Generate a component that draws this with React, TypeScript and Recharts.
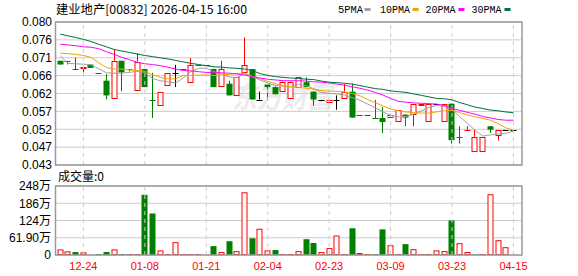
import React from 'react';
import { ComposedChart, Bar, Line, XAxis, YAxis, CartesianGrid, ReferenceLine } from 'recharts';

const RED = '#ff0000';
const GREEN = '#008000';
const BLACK = '#000000';
const GRID = '#cccccc';
const FONT = "'Liberation Sans', Arial, 'Noto Sans CJK SC', sans-serif";

const dates = ['12-19','12-22','12-23','12-24','12-29','12-30','12-31','01-02','01-05','01-06',
  '01-07','01-08','01-09','01-12','01-13','01-14','01-15','01-16','01-20','01-21',
  '01-22','01-23','01-26','01-27','01-29','01-30','02-03','02-04','02-05','02-06',
  '02-09','02-10','02-11','02-12','02-20','02-23','02-24','02-25','02-26','02-27',
  '03-02','03-03','03-06','03-09','03-10','03-11','03-12','03-13','03-16','03-17',
  '03-20','03-23','03-24','03-25','03-26','03-27','04-08','04-09','04-14','04-15'];

const opens = [0.0702,0.0700,0.0681,0.0682,0.0692,0.0670,0.0649,0.0600,0.0702,0.0678,
  0.0622,0.0680,0.0599,0.0583,0.0636,0.0670,0.0679,0.0643,0.0691,0.0692,
  0.0680,0.0632,0.0641,0.0610,0.0671,0.0680,0.0599,0.0639,0.0632,0.0618,
  0.0601,0.0632,0.0645,0.0620,0.0599,0.0591,0.0599,0.0601,0.0620,0.0558,
  0.0558,0.0549,0.0550,0.0550,0.0539,0.0559,0.0559,0.0583,0.0539,0.0588,
  0.0539,0.0588,0.0499,0.0518,0.0459,0.0459,0.0528,0.0503,0.0519,0.0519];

const highs = [0.0702,0.0702,0.0710,0.0686,0.0692,0.0670,0.0667,0.0731,0.0702,0.0680,
  0.0722,0.0680,0.0670,0.0620,0.0670,0.0691,0.0680,0.0709,0.0692,0.0692,
  0.0681,0.0702,0.0649,0.0660,0.0764,0.0680,0.0620,0.0641,0.0634,0.0647,
  0.0647,0.0660,0.0658,0.0620,0.0599,0.0599,0.0610,0.0641,0.0641,0.0559,
  0.0559,0.0598,0.0579,0.0559,0.0570,0.0559,0.0588,0.0588,0.0588,0.0588,
  0.0588,0.0588,0.0528,0.0528,0.0519,0.0500,0.0528,0.0519,0.0519,0.0519];

const lows = [0.0692,0.0692,0.0680,0.0671,0.0683,0.0669,0.0599,0.0600,0.0621,0.0674,
  0.0622,0.0632,0.0550,0.0583,0.0636,0.0632,0.0679,0.0643,0.0691,0.0692,
  0.0632,0.0632,0.0610,0.0610,0.0671,0.0599,0.0599,0.0599,0.0613,0.0618,
  0.0601,0.0632,0.0632,0.0582,0.0599,0.0591,0.0572,0.0601,0.0551,0.0558,
  0.0558,0.0548,0.0510,0.0550,0.0539,0.0528,0.0528,0.0583,0.0539,0.0588,
  0.0539,0.0482,0.0482,0.0518,0.0459,0.0459,0.0510,0.0490,0.0519,0.0519];

const closes = [0.0692,0.0702,0.0680,0.0686,0.0683,0.0669,0.0610,0.0702,0.0671,0.0680,
  0.0700,0.0632,0.0598,0.0620,0.0670,0.0670,0.0680,0.0691,0.0692,0.0692,
  0.0632,0.0680,0.0610,0.0660,0.0691,0.0599,0.0599,0.0632,0.0613,0.0645,
  0.0645,0.0660,0.0632,0.0599,0.0599,0.0599,0.0599,0.0620,0.0551,0.0559,
  0.0559,0.0548,0.0539,0.0559,0.0570,0.0551,0.0588,0.0588,0.0588,0.0588,
  0.0588,0.0491,0.0500,0.0519,0.0500,0.0500,0.0519,0.0519,0.0519,0.0519];

// volume in 万
const volumes = [20,13,10.6,9.5,0.3,3.5,10.6,20,3.5,1.5,
  1.5,216,149,16.5,1.5,46,1.5,1.5,1.5,0,
  31.8,10.6,49.5,14,225,60,94.4,16.5,17.7,1.5,
  1.5,14,56.6,43,10.6,24.8,70,1.5,96,7,
  1.5,3,92,35,1.5,39,21,1.5,1.5,16.5,
  14,124,42.4,10.6,1.5,1.5,218,53,28,0];

const ma5 = [0.0715,0.0695,0.0694,0.0693,0.0691,0.0681,0.0670,0.0669,0.0669,0.0671,
  0.0674,0.0671,0.0655,0.0649,0.0646,0.0643,0.0656,0.0673,0.0682,0.0682,
  0.0673,0.0666,0.0659,0.0657,0.0667,0.0659,0.0651,0.0643,0.0636,0.0635,
  0.0632,0.0639,0.0636,0.0627,0.0618,0.0615,0.0614,0.0611,0.0604,0.0597,
  0.0587,0.0577,0.0566,0.0557,0.0553,0.0554,0.0560,0.0569,0.0578,0.0583,
  0.0581,0.0573,0.0553,0.0536,0.0517,0.0502,0.0505,0.0507,0.0509,0.0515];

const ma10 = [0.0722,0.0721,0.0719,0.0716,0.0711,0.0697,0.0684,0.0680,0.0680,0.0678,
  0.0676,0.0674,0.0665,0.0658,0.0654,0.0654,0.0663,0.0663,0.0664,0.0664,
  0.0663,0.0664,0.0666,0.0668,0.0669,0.0660,0.0655,0.0647,0.0641,0.0635,
  0.0633,0.0631,0.0629,0.0627,0.0623,0.0621,0.0621,0.0619,0.0615,0.0609,
  0.0599,0.0591,0.0582,0.0574,0.0569,0.0566,0.0564,0.0563,0.0563,0.0566,
  0.0569,0.0570,0.0564,0.0558,0.0553,0.0549,0.0544,0.0535,0.0524,0.0517];

const ma20 = [0.0746,0.0744,0.0742,0.0739,0.0738,0.0734,0.0726,0.0719,0.0711,0.0705,
  0.0698,0.0694,0.0692,0.0689,0.0685,0.0680,0.0676,0.0675,0.0673,0.0671,
  0.0670,0.0670,0.0669,0.0667,0.0664,0.0660,0.0656,0.0653,0.0651,0.0649,
  0.0649,0.0649,0.0648,0.0646,0.0645,0.0643,0.0640,0.0637,0.0633,0.0629,
  0.0624,0.0618,0.0611,0.0602,0.0594,0.0592,0.0590,0.0589,0.0588,0.0587,
  0.0583,0.0575,0.0570,0.0565,0.0560,0.0554,0.0550,0.0546,0.0544,0.0544];

const ma30 = [0.0773,0.0768,0.0764,0.0759,0.0753,0.0746,0.0739,0.0732,0.0728,0.0724,
  0.0720,0.0716,0.0713,0.0710,0.0707,0.0703,0.0699,0.0695,0.0692,0.0689,
  0.0686,0.0685,0.0683,0.0682,0.0680,0.0676,0.0668,0.0663,0.0660,0.0658,
  0.0656,0.0655,0.0653,0.0652,0.0648,0.0645,0.0644,0.0642,0.0640,0.0636,
  0.0632,0.0628,0.0626,0.0622,0.0620,0.0618,0.0614,0.0610,0.0606,0.0602,
  0.0601,0.0598,0.0591,0.0585,0.0579,0.0575,0.0571,0.0569,0.0566,0.0564];

const tickDates = ['12-24','01-08','01-21','02-04','02-23','03-09','03-23','04-15'];
const priceTicks = [0.0425,0.04725,0.052,0.05675,0.0615,0.06625,0.071,0.07575,0.0805];
const priceTickLabels = ['0.043','0.047','0.052','0.057','0.062','0.066','0.071','0.076','0.080'];
const volTicks = [0,61.9,123.8,185.7,247.6];
const volTickLabels = ['0','61.90万','124万','186万','248万'];

const legendItems = [
  { name: '5PMA', key: 'ma5', color: '#a0a0a0' },
  { name: '10PMA', key: 'ma10', color: '#f5a300' },
  { name: '20PMA', key: 'ma20', color: '#ff00ff' },
  { name: '30PMA', key: 'ma30', color: '#006f3a' },
];

const rows = dates.map((d, i) => ({
  date: d,
  open: opens[i],
  high: highs[i],
  low: lows[i],
  close: closes[i],
  prevClose: i > 0 ? closes[i - 1] : null,
  range: [lows[i], highs[i]],
  vol: volumes[i],
  ma5: ma5[i],
  ma10: ma10[i],
  ma20: ma20[i],
  ma30: ma30[i],
}));

const Candle = (props: any) => {
  const { x, y, width, height, payload } = props;
  if (!payload || x == null || y == null) return null;
  const { open, close, high, low } = payload;
  const h = height || 0;
  const top = Math.min(y, y + h);
  const bot = Math.max(y, y + h);
  const span = high - low;
  const py = (v: number) => (span > 0 ? top + ((high - v) / span) * (bot - top) : top);
  const cx = Math.floor(x + width / 2) + 0.5;
  const color = close > open ? RED : close < open ? GREEN : BLACK;
  const bt = py(Math.max(open, close));
  const bb = py(Math.min(open, close));
  if (bb - bt < 1.2) {
    const yy = Math.round(bt) + 0.5;
    return (
      <g>
        {bot - top > 0.5 && <line x1={cx} x2={cx} y1={top} y2={bot} stroke={color} strokeWidth={1} />}
        <line x1={cx - 3} x2={cx + 3} y1={yy} y2={yy} stroke={color} strokeWidth={1} />
      </g>
    );
  }
  if (color === RED) {
    return (
      <g>
        <line x1={cx} x2={cx} y1={top} y2={bt} stroke={RED} strokeWidth={1} />
        <line x1={cx} x2={cx} y1={bb} y2={bot} stroke={RED} strokeWidth={1} />
        <rect x={cx - 2.5} y={Math.round(bt) + 0.5} width={5} height={Math.max(1, Math.round(bb - bt) - 1)} fill="#ffffff" stroke={RED} strokeWidth={1} />
      </g>
    );
  }
  return (
    <g>
      <line x1={cx} x2={cx} y1={top} y2={bot} stroke={color} strokeWidth={1} />
      <rect x={cx - 3} y={bt} width={6} height={bb - bt} fill={color} />
    </g>
  );
};

const VolBar = (props: any) => {
  const { x, y, width, height, payload } = props;
  if (!payload || !payload.vol || x == null || y == null) return null;
  const up = payload.prevClose == null || payload.close >= payload.prevClose;
  const cx = Math.floor(x + width / 2) + 0.5;
  const h = Math.abs(height || 0);
  const top = Math.min(y, y + (height || 0));
  if (up) {
    return <rect x={cx - 2.5} y={Math.min(top, 254) + 0.5} width={5} height={Math.max(0.5, h - 1)} fill="#ffffff" stroke={RED} strokeWidth={1} />;
  }
  return <rect x={cx - 3} y={top} width={6} height={h} fill={GREEN} />;
};

const axisTick = { fill: '#000', fontSize: 12, fontFamily: FONT };

export default function App() {
  return (
    <div style={{ position: 'absolute', left: 0, top: 0, width: 578, height: 276, background: '#ffffff', overflow: 'hidden' }}>
      <svg width={578} height={276} style={{ position: 'absolute', left: 0, top: 0 }}>
        <text x={232} y={108} fontSize={30} fontWeight="bold" fontStyle="italic" fill="#ececec" fontFamily="'Noto Sans CJK SC', sans-serif" textLength={100} lengthAdjust="spacingAndGlyphs">东方财富</text>
      </svg>
      <div style={{ position: 'absolute', left: 0, top: 0 }}>
        <ComposedChart width={578} height={178} data={rows} margin={{ top: 22, right: 56, bottom: 13, left: 0 }}>
          <CartesianGrid vertical={false} stroke={GRID} />
          <XAxis dataKey="date" hide padding={{ left: 1.5, right: 4.7 }} />
          <YAxis
            domain={[0.0425, 0.0805]}
            ticks={priceTicks}
            interval={0}
            allowDataOverflow
            width={55}
            axisLine={false}
            tickLine={false}
            tickSize={0}
            tickMargin={3}
            tick={axisTick}
            tickFormatter={(v: number) => priceTickLabels[priceTicks.indexOf(v)] ?? ''}
          />
          {tickDates.map((d) => (
            <ReferenceLine key={d} x={d} stroke={GRID} strokeDasharray="4 4" />
          ))}
          <Bar dataKey="range" shape={<Candle />} isAnimationActive={false} />
          {legendItems.map((it) => (
            <Line key={it.key} dataKey={it.key} stroke={it.color} strokeWidth={1} dot={false} activeDot={false} isAnimationActive={false} />
          ))}
        </ComposedChart>
      </div>
      <div style={{ position: 'absolute', left: 0, top: 0 }}>
        <ComposedChart width={578} height={276} data={rows} margin={{ top: 186, right: 56, bottom: 0, left: 0 }}>
          <CartesianGrid vertical={false} stroke={GRID} />
          <XAxis
            dataKey="date"
            ticks={tickDates}
            interval={0}
            padding={{ left: 1.5, right: 4.7 }}
            height={21}
            axisLine={false}
            tickLine={false}
            tickSize={0}
            tickMargin={7}
            tick={{ fill: RED, fontSize: 11, fontFamily: FONT }}
          />
          <YAxis
            domain={[0, 247.6]}
            ticks={volTicks}
            interval={0}
            allowDataOverflow
            width={55}
            axisLine={false}
            tickLine={false}
            tickSize={0}
            tickMargin={4}
            tick={axisTick}
            tickFormatter={(v: number) => volTickLabels[volTicks.indexOf(v)] ?? ''}
          />
          {tickDates.map((d) => (
            <ReferenceLine key={d} x={d} stroke={GRID} strokeDasharray="4 4" />
          ))}
          <Bar dataKey="vol" shape={<VolBar />} isAnimationActive={false} />
        </ComposedChart>
      </div>
      <svg width={578} height={276} style={{ position: 'absolute', left: 0, top: 0, pointerEvents: 'none' }}>
        <rect x={55.5} y={22} width={466.5} height={143} fill="none" stroke="#9a9a9a" strokeWidth={1.5} />
        <rect x={55.5} y={186} width={466.5} height={69} fill="none" stroke="#9a9a9a" strokeWidth={1.5} />
        <text x={56} y={14} fontSize={12} fill="#000" fontFamily="'Noto Sans CJK SC', sans-serif" textLength={191} lengthAdjust="spacingAndGlyphs">建业地产[00832] 2026-04-15 16:00</text>
        {[
          { tx: 338, tw: 25, sx: 364.5 },
          { tx: 380, tw: 30, sx: 412.5 },
          { tx: 425.5, tw: 30, sx: 458.5 },
          { tx: 471.5, tw: 30, sx: 504.5 },
        ].map((p, i) => (
          <g key={legendItems[i].key}>
            <text x={p.tx} y={13} fontSize={11} fill="#000" fontFamily="'Liberation Mono', monospace" textLength={p.tw} lengthAdjust="spacingAndGlyphs">{legendItems[i].name}</text>
            <rect x={p.sx} y={8} width={6} height={3} fill={legendItems[i].color} />
          </g>
        ))}
        <text x={58} y={181} fontSize={12} fill="#000" fontFamily="'Noto Sans CJK SC', sans-serif">成交量:0</text>
      </svg>
    </div>
  );
}
